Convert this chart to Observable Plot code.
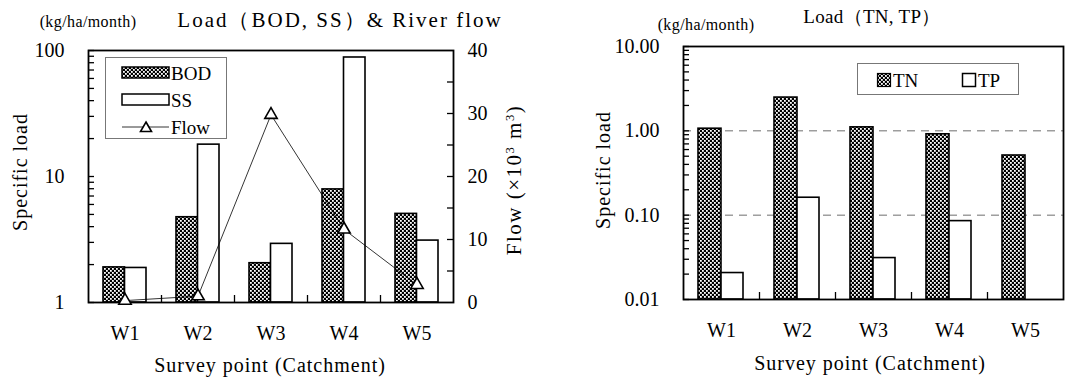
<!DOCTYPE html>
<html>
<head>
<meta charset="utf-8">
<script src="https://cdn.jsdelivr.net/npm/d3@7"></script>
<script src="https://cdn.jsdelivr.net/npm/@observablehq/plot@0.6"></script>
<style>
  body { margin: 0; background: #fff; }
  #chart { position: relative; width: 1065px; height: 378px; overflow: hidden; background: #fff;
           font-family: "Liberation Serif", "DejaVu Serif", serif; color: #000; }
  .layer { position: absolute; top: 0; }
  .t { position: absolute; white-space: nowrap; transform: translate(-50%, -50%); line-height: 1; }
  .rot { transform: translate(-50%, -50%) rotate(-90deg); }
  sup { font-size: 0.6em; vertical-align: 0.55em; line-height: 0; }
</style>
</head>
<body>
<svg width="0" height="0" style="position:absolute">
  <defs>
    <pattern id="checker" width="4" height="4" patternUnits="userSpaceOnUse">
      <rect width="4" height="4" fill="#000"/>
      <rect x="0" y="0" width="1.8" height="1.8" fill="#fff"/>
      <rect x="2" y="2" width="1.8" height="1.8" fill="#fff"/>
    </pattern>
  </defs>
</svg>
<div id="chart"></div>
<script>
// Survey points (catchments)
const points = ["W1", "W2", "W3", "W4", "W5"];
// Specific load, kg/ha/month
const bod = [1.9, 4.75, 2.05, 7.9, 5.05];
const ss = [1.88, 17.9, 2.92, 88, 3.1];
const tn = [1.06, 2.48, 1.1, 0.91, 0.51];
const tp = [0.0206, 0.161, 0.031, 0.085, null];
// River flow, 10^3 m^3
const flow = [0.3, 1.0, 29.8, 11.6, 2.8];
// Axis ticks
const loadTicksLeft = [1, 10, 100];
const flowTicks = [0, 10, 20, 30, 40];
const flowMinorTicks = [5, 10, 15, 20, 25, 30, 35];
const loadTicksRight = [0.01, 0.1, 1, 10];
const gridRight = [0.1, 1];

const FONT = "'Liberation Serif', 'DejaVu Serif', serif";
const chart = document.getElementById("chart");

const rowsLeft = points.map((p, i) => ({point: p, bod: bod[i], ss: ss[i], flow: flow[i]}));
const rowsRight = points.map((p, i) => ({point: p, tn: tn[i], tp: tp[i]}));

function layer(node, left, width, height) {
  const div = document.createElement("div");
  div.className = "layer";
  div.style.left = left + "px";
  div.style.width = width + "px";
  div.style.height = height + "px";
  div.appendChild(node);
  chart.appendChild(div);
}

function text(html, x, y, size, rotate, spacing = 0) {
  const d = document.createElement("div");
  d.className = "t" + (rotate ? " rot" : "");
  d.style.left = x + "px";
  d.style.top = y + "px";
  d.style.fontSize = size + "px";
  d.style.letterSpacing = spacing + "px";
  d.innerHTML = html;
  chart.appendChild(d);
}

const baseStyle = {fontFamily: FONT, fontSize: "20px", background: "transparent", overflow: "visible", maxWidth: "none"};

// ---------- Left panel: BOD / SS load (log) with river flow (linear, right axis)
const LW = 540, LH = 378;
const LM = {left: 88, right: 87, top: 50, bottom: 76};
const lPlotW = LW - LM.left - LM.right, lPlotH = LH - LM.top - LM.bottom;
const lBand = lPlotW / points.length;

const minorLeft = d3.scaleLog().domain([1, 100]).ticks();

const leftBars = Plot.plot({
  width: LW, height: LH,
  marginLeft: LM.left, marginRight: LM.right, marginTop: LM.top, marginBottom: LM.bottom,
  style: baseStyle,
  x: {type: "band", domain: points, padding: 0},
  y: {type: "log", domain: [1, 100], label: null},
  marks: [
    Plot.barY(rowsLeft, {x: "point", y1: 1, y2: "bod", fill: "url(#checker)", stroke: "#000", strokeWidth: 1.6,
      insetLeft: 15, insetRight: lBand - 36.5}),
    Plot.barY(rowsLeft, {x: "point", y1: 1, y2: "ss", fill: "#fff", stroke: "#000", strokeWidth: 1.6,
      insetLeft: 36.5, insetRight: lBand - 58}),
    Plot.tickY(minorLeft, {y: d => d, stroke: "#000", strokeWidth: 1.3, insetRight: lPlotW - 6}),
    Plot.tickX(points.slice(0, -1), {x: d => d, dx: lBand / 2, stroke: "#000", strokeWidth: 1.3, insetTop: lPlotH - 7}),
    Plot.axisY({ticks: loadTicksLeft, tickSize: 0, tickPadding: 24, fontSize: 20, label: null}),
    Plot.axisX({tickSize: 0, tickPadding: 23, fontSize: 20, label: null}),
    Plot.frame({stroke: "#000", strokeWidth: 1.8})
  ]
});
layer(leftBars, 0, LW, LH);

const leftFlow = Plot.plot({
  width: LW, height: LH,
  marginLeft: LM.left, marginRight: LM.right, marginTop: LM.top, marginBottom: LM.bottom,
  style: baseStyle,
  x: {type: "band", domain: points, padding: 0, axis: null},
  y: {domain: [0, 40], label: null},
  marks: [
    Plot.tickY(flowMinorTicks, {y: d => d, stroke: "#000", strokeWidth: 1.3, insetLeft: lPlotW - 6}),
    Plot.axisY({anchor: "right", ticks: flowTicks, tickSize: 0, tickPadding: 14, fontSize: 20, label: null}),
    Plot.line(rowsLeft, {x: "point", y: "flow", stroke: "#000", strokeWidth: 0.8}),
    Plot.dot(rowsLeft, {x: "point", y: "flow", symbol: "triangle", r: 4.6, fill: "#fff", stroke: "#000", strokeWidth: 1.6})
  ]
});
layer(leftFlow, 0, LW, LH);

// ---------- Right panel: TN / TP load (log)
const RX = 540, RW = 525, RH = 378;
const RM = {left: 143, right: 2, top: 46, bottom: 79};
const rPlotW = RW - RM.left - RM.right, rPlotH = RH - RM.top - RM.bottom;
const rBand = rPlotW / points.length;
const minorRight = d3.scaleLog().domain([0.01, 10]).ticks();

const rightBars = Plot.plot({
  width: RW, height: RH,
  marginLeft: RM.left, marginRight: RM.right, marginTop: RM.top, marginBottom: RM.bottom,
  style: baseStyle,
  x: {type: "band", domain: points, padding: 0},
  y: {type: "log", domain: [0.01, 10], label: null},
  marks: [
    Plot.ruleY(gridRight, {y: d => d, stroke: "#6e6e6e", strokeWidth: 1, strokeDasharray: "8,6"}),
    Plot.barY(rowsRight, {x: "point", y1: 0.01, y2: "tn", fill: "url(#checker)", stroke: "#000", strokeWidth: 1.6,
      insetLeft: 15, insetRight: rBand - 38}),
    Plot.barY(rowsRight.filter(d => d.tp != null), {x: "point", y1: 0.01, y2: "tp", fill: "#fff", stroke: "#000", strokeWidth: 1.6,
      insetLeft: 38, insetRight: rBand - 60}),
    Plot.tickY(minorRight, {y: d => d, stroke: "#000", strokeWidth: 1.3, insetRight: rPlotW - 6}),
    Plot.tickX(points.slice(0, -1), {x: d => d, dx: rBand / 2, stroke: "#000", strokeWidth: 1.3, insetTop: rPlotH - 7}),
    Plot.axisY({ticks: loadTicksRight, tickFormat: d3.format(".2f"), tickSize: 0, tickPadding: 24, fontSize: 20, label: null}),
    Plot.axisX({tickSize: 0, tickPadding: 23, fontSize: 20, label: null}),
    Plot.frame({stroke: "#000", strokeWidth: 1.8})
  ]
});
layer(rightBars, RX, RW, RH);

// ---------- Titles and axis labels
text("(kg/ha/month)", 88, 22, 16, false, 0.4);
text("Load（BOD, SS）&amp; River flow", 340, 20, 21, false, 2);
text("Specific load", 20, 172, 20, true, 1);
text("Flow (×10<sup>3</sup> m<sup>3</sup>)", 514, 180, 21, true, 1.5);
text("Survey point (Catchment)", 270, 365, 20, false, 1);

text("(kg/ha/month)", 706, 25, 16, false, 0.4);
text("Load（TN, TP）", 872, 16, 19, false, 0.3);
text("Specific load", 603, 170, 20, true, 1);
text("Survey point (Catchment)", 870, 363, 20, false, 1);

// ---------- Legends
const NS = "http://www.w3.org/2000/svg";
function svgEl(tag, attrs, parent) {
  const e = document.createElementNS(NS, tag);
  for (const k in attrs) e.setAttribute(k, attrs[k]);
  if (parent) parent.appendChild(e);
  return e;
}
function legendBox(x, y, w, h) {
  const s = svgEl("svg", {width: w, height: h});
  s.style.position = "absolute";
  s.style.left = x + "px";
  s.style.top = y + "px";
  s.style.fontFamily = FONT;
  svgEl("rect", {x: 0.5, y: 0.5, width: w - 1, height: h - 1, fill: "#fff", stroke: "#777", "stroke-width": 1}, s);
  chart.appendChild(s);
  return s;
}
function label(s, str, x, y, size) {
  const t = svgEl("text", {x, y, "font-size": size, "dominant-baseline": "central", fill: "#000"}, s);
  t.textContent = str;
}

// Left legend: BOD, SS, Flow
const seriesLeft = ["BOD", "SS", "Flow"];
const lg = legendBox(105, 57, 122, 82);
svgEl("rect", {x: 17, y: 10, width: 47, height: 11, fill: "url(#checker)", stroke: "#000", "stroke-width": 1.5}, lg);
label(lg, seriesLeft[0], 66, 16.5, 19);
svgEl("rect", {x: 17, y: 37, width: 47, height: 11, fill: "#fff", stroke: "#000", "stroke-width": 1.5}, lg);
label(lg, seriesLeft[1], 66, 43, 19);
svgEl("line", {x1: 17, x2: 64, y1: 70, y2: 70, stroke: "#000", "stroke-width": 0.8}, lg);
svgEl("path", {d: "M41,65L46.5,74.5L35.5,74.5Z", fill: "#fff", stroke: "#000", "stroke-width": 1.6}, lg);
label(lg, seriesLeft[2], 66, 70, 19);

// Right legend: TN, TP
const seriesRight = ["TN", "TP"];
const rg = legendBox(857, 63, 162, 32);
svgEl("rect", {x: 20.5, y: 10.5, width: 13, height: 13, fill: "url(#checker)", stroke: "#000", "stroke-width": 1.2}, rg);
label(rg, seriesRight[0], 36, 17, 19);
svgEl("rect", {x: 105.5, y: 10.5, width: 13, height: 13, fill: "#fff", stroke: "#000", "stroke-width": 1.5}, rg);
label(rg, seriesRight[1], 121, 17, 19);
</script>
</body>
</html>
